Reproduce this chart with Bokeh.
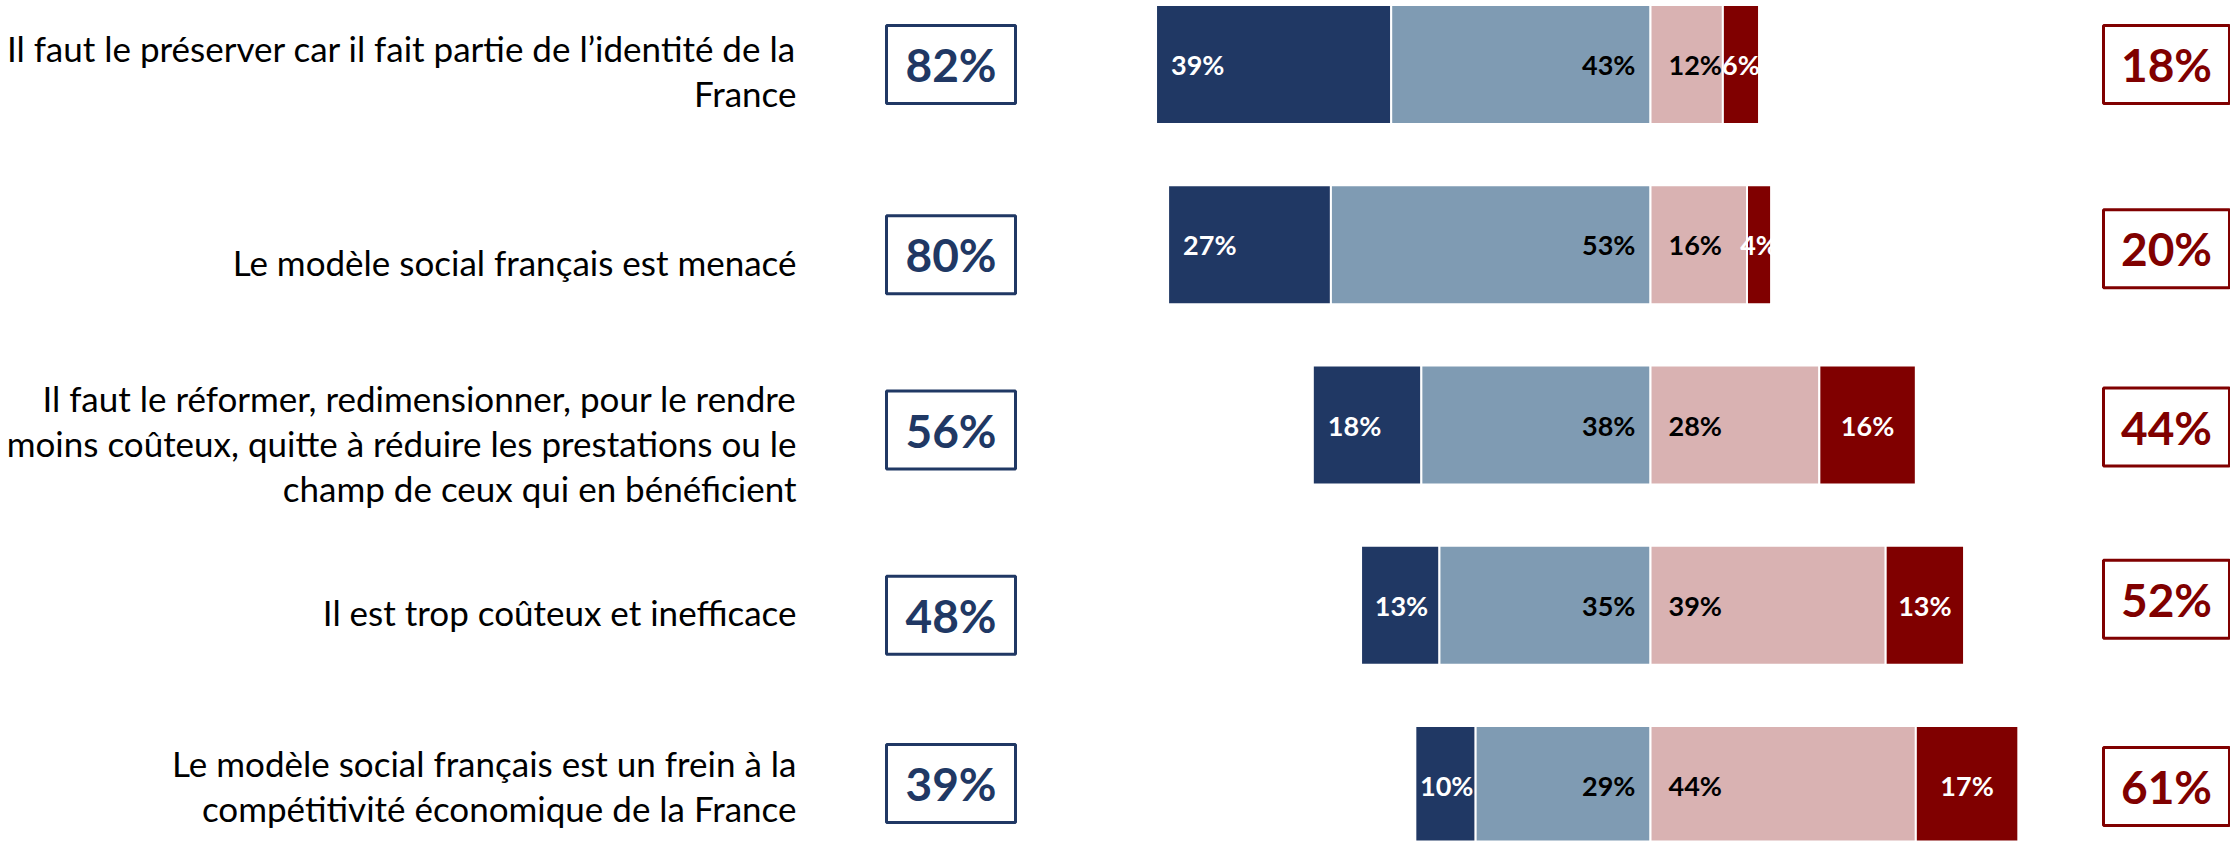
from bokeh.plotting import figure
from bokeh.models import ColumnDataSource, Range1d
from bokeh.core.properties import value
from bokeh.embed import file_html
from bokeh.resources import INLINE

# ---------------- data ----------------
categories = [
    "Il faut le préserver car il fait partie de l\u2019identité de la\nFrance",
    "Le modèle social français est menacé",
    "Il faut le réformer, redimensionner, pour le rendre\nmoins coûteux, quitte à réduire les prestations ou le\nchamp de ceux qui en bénéficient",
    "Il est trop coûteux et inefficace",
    "Le modèle social français est un frein à la\ncompétitivité économique de la France",
]
tout_a_fait = [39, 27, 18, 13, 10]
plutot_oui = [43, 53, 38, 35, 29]
plutot_non = [12, 16, 28, 39, 44]
pas_du_tout = [6, 4, 16, 13, 17]
total_oui = [82, 80, 56, 48, 39]
total_non = [18, 20, 44, 52, 61]

# ---------------- style / layout ----------------
NAVY = "#203864"
LBLUE = "#7F9BB3"
PINK = "#D9B2B2"
DRED = "#800000"
FONT = "Lato"

W, H = 2230, 841
PX_PER_UNIT = 6.03          # pixels per percentage point
CENTER_PX = 1650            # pixel position of 0 %
ROW0_PX = 64                # pixel position of first row centre
ROW_STEP = 180.25           # pixels between rows
LABEL_DY = [6, 17, 18, 7, 0]       # small per-row nudges (px)
LBOX_DY = [0, 10, 5, 10, -2]
RBOX_DY = [0, 4, 2, -6, 1]

x0 = -CENTER_PX / PX_PER_UNIT
x1 = (W - CENTER_PX) / PX_PER_UNIT
y_top = -ROW0_PX / ROW_STEP
y_bot = (H - ROW0_PX) / ROW_STEP

p = figure(width=W, height=H, output_backend="svg", toolbar_location=None,
           x_range=Range1d(x0, x1), y_range=Range1d(y_bot, y_top),
           min_border=0, outline_line_color=None)
p.axis.visible = False
p.grid.visible = False
p.background_fill_color = "white"

n = len(categories)
ys = list(range(n))

src = ColumnDataSource(dict(
    y=ys,
    l_navy=[-(a + b) for a, b in zip(tout_a_fait, plutot_oui)],
    r_navy=[-b for b in plutot_oui],
    l_lb=[-b for b in plutot_oui],
    r_lb=[0] * n,
    l_pk=[0] * n,
    r_pk=plutot_non,
    l_rd=plutot_non,
    r_rd=[c + d for c, d in zip(plutot_non, pas_du_tout)],
    t_navy=[f"{v}%" for v in tout_a_fait],
    t_lb=[f"{v}%" for v in plutot_oui],
    t_pk=[f"{v}%" for v in plutot_non],
    t_rd=[f"{v}%" for v in pas_du_tout],
    m_rd=[c + d / 2 for c, d in zip(plutot_non, pas_du_tout)],
    pad_navy=[min(15, max(3, (v * PX_PER_UNIT - 51) / 2)) for v in tout_a_fait],
))

BAR_H = 0.66
for l, r, c in [("l_navy", "r_navy", NAVY), ("l_lb", "r_lb", LBLUE),
                ("l_pk", "r_pk", PINK), ("l_rd", "r_rd", DRED)]:
    p.hbar(y="y", left=l, right=r, height=BAR_H, source=src,
           fill_color=c, line_color="white", line_width=2)

LBL = dict(text_font=value(FONT), text_font_style="bold", text_font_size="27px",
           text_baseline="middle")
p.text(x="l_navy", y="y", text="t_navy", x_offset="pad_navy", text_align="left",
       text_color="white", source=src, **LBL)
p.text(x="r_lb", y="y", text="t_lb", x_offset=-15, text_align="right",
       text_color="black", source=src, **LBL)
p.text(x="l_pk", y="y", text="t_pk", x_offset=18, text_align="left",
       text_color="black", source=src, **LBL)
p.text(x="m_rd", y="y", text="t_rd", text_align="center",
       text_color="white", source=src, **LBL)

# category labels
label_x = (796 - CENTER_PX) / PX_PER_UNIT
lab_src = ColumnDataSource(dict(x=[label_x] * n, y=ys, text=categories,
                                dy=LABEL_DY))
p.text(x="x", y="y", text="text", y_offset="dy", source=lab_src,
       text_font=value(FONT), text_font_size="35px", text_color="#000000",
       text_align="right", text_baseline="middle", text_line_height=1.07)

# total boxes
lx = (950.5 - CENTER_PX) / PX_PER_UNIT
rx = (2166 - CENTER_PX) / PX_PER_UNIT
box_src = ColumnDataSource(dict(
    lx=[lx] * n, rx=[rx] * n, y=ys,
    ldy=LBOX_DY, rdy=RBOX_DY,
    ldy_n=[-d / ROW_STEP for d in LBOX_DY],
    rdy_n=[-d / ROW_STEP for d in RBOX_DY],
    t_oui=[f"{v}%" for v in total_oui],
    t_non=[f"{v}%" for v in total_non],
))
box_src.data["ly"] = [y + d / ROW_STEP for y, d in zip(ys, LBOX_DY)]
box_src.data["ry"] = [y + d / ROW_STEP for y, d in zip(ys, RBOX_DY)]

p.rect(x="lx", y="ly", width=129, height=78, width_units="screen",
       height_units="screen", fill_color="white", line_color=NAVY,
       line_width=3, source=box_src)
p.rect(x="rx", y="ry", width=126, height=78, width_units="screen",
       height_units="screen", fill_color="white", line_color=DRED,
       line_width=3, source=box_src)
BOX = dict(text_font=value(FONT), text_font_style="bold", text_font_size="46px",
           text_baseline="middle", text_align="center")
p.text(x="lx", y="ly", text="t_oui", text_color=NAVY, source=box_src, **BOX)
p.text(x="rx", y="ry", text="t_non", text_color=DRED, source=box_src, **BOX)

open("out.html", "w").write(file_html(p, INLINE))
